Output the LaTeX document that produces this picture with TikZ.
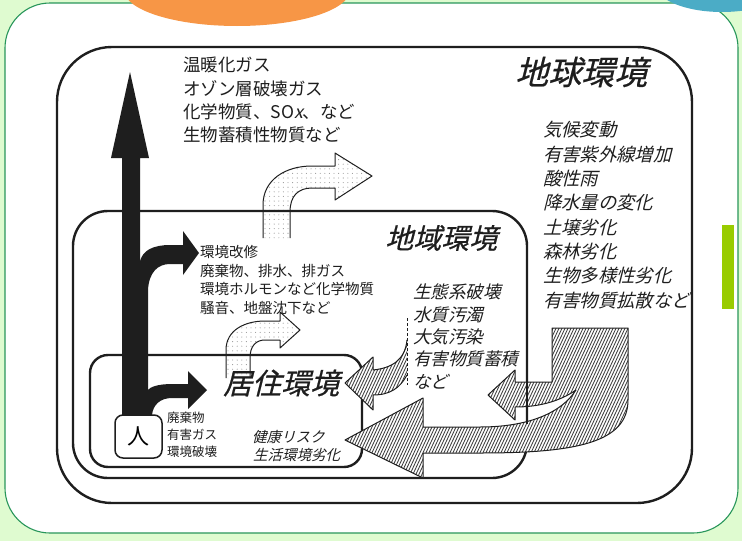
\documentclass[tikz,border=0pt]{standalone}
\usepackage{fontspec}
\setmainfont{Noto Sans CJK JP}
\newfontfamily\jp{Noto Sans CJK JP}
\newfontfamily\jpi[FakeSlant=0.25]{Noto Sans CJK JP}
\newfontfamily\jpti[FakeSlant=0.25,FakeBold=0.6]{Noto Sans CJK JP}
\definecolor{bgg}{RGB}{223,251,208}
\definecolor{frameg}{RGB}{40,150,90}
\definecolor{blobo}{RGB}{247,150,70}
\definecolor{blobb}{RGB}{75,172,198}
\definecolor{barg}{RGB}{153,204,0}
\definecolor{ink}{RGB}{30,30,30}
\tikzset{
  envbox/.style={draw=ink, line width=2.4pt},
  hatchfill/.style={fill=white, draw=ink, line width=1pt, line join=round,
    path picture={\foreach \hx in {-260,-257,...,742} \draw[ink!85, line width=0.85pt] (\hx,560) -- ++(261,-560);}},
  dotfill/.style={fill=white, draw=ink, line width=1pt, line join=round,
    path picture={\foreach \di in {0,...,25} \foreach \dj in {0,...,21}
      \fill[black!40] ([shift={(\di*4.6+2,\dj*4.6+2)}]path picture bounding box.north west) circle (0.55);}},
  jtxt/.style={anchor=west, inner sep=0pt, text=ink},
  up/.style={jtxt, font=\jp\fontsize{#1}{#1}\selectfont},
  it/.style={jtxt, font=\jpi\fontsize{#1}{#1}\selectfont},
  ttl/.style={jtxt, font=\jpti\fontsize{#1}{#1}\selectfont},
}
\begin{document}
\begin{tikzpicture}[x=1pt,y=-1pt]
\useasboundingbox (0,0) rectangle (742,541);
\begin{scope}
\clip (0,0) rectangle (742,541);
\fill[bgg] (0,0) rectangle (742,541);
\draw[frameg, fill=white, line width=1.1pt, rounded corners=45] (5,3) rectangle (738,533);
\fill[blobo] (237,-10) ellipse [x radius=113, y radius=36];
\fill[blobb] (722,-15) ellipse [x radius=66, y radius=27];
\end{scope}
\fill[barg] (722,225) rectangle (734,309);

% dotted arrows
\path[dotfill] (263,238) -- (263,205) .. controls (263,180) and (285,166) .. (312,166) -- (335,166) -- (335,153) -- (372,176) -- (335,200) -- (335,188) -- (312,188) .. controls (298,188) and (290,196) .. (290,212) -- (290,238);
\path[dotfill] (226,378) -- (226,350) .. controls (226,330) and (245,321) .. (265,321) -- (280,321) -- (280,312) -- (300,330) -- (280,348) -- (280,340) -- (265,340) .. controls (256,340) and (250,346) .. (250,358) -- (250,378);

% environment boxes
\draw[envbox, rounded corners=55] (57,47) rectangle (692,503);
\draw[envbox, rounded corners=35] (73,211) rectangle (527,478);
\draw[envbox, rounded corners=18] (90,355) rectangle (362,467);

% hatched arrows
\path[hatchfill] (552,328) -- (628,328) -- (628,400) .. controls (628,443) and (575,453) .. (480,453) -- (423,453) -- (423,478) -- (345,440) -- (423,398) -- (423,427) -- (480,427) .. controls (530,427) and (562,412) .. (576,390) .. controls (560,401) and (540,407) .. (515,407) -- (515,420) -- (488,395) -- (515,370) -- (515,382) -- (552,382) -- cycle;
\draw[ink, line width=2.4pt] (527,362) -- (527,424);
\path[hatchfill] (407,340) .. controls (405,360) and (392,368) .. (373,370) -- (373,357) -- (345,383) -- (373,410) -- (373,395) .. controls (390,395) and (400,388) .. (407,375);
\draw[ink, line width=0.8pt, dash pattern=on 3pt off 2pt] (407,318) -- (407,385);

% black arrow from the person
\fill[ink] (130,72) -- (149,158) -- (140,158) -- (140,262)
  .. controls (142,250) and (154,245) .. (170,245) -- (183,245) -- (183,231) -- (199,253) -- (183,275) -- (183,264) -- (170,264) .. controls (158,264) and (149,272) .. (148,290)
  -- (148,390) .. controls (150,387) and (158,384) .. (172,384) -- (188,384) -- (188,371) -- (207,390) -- (188,409) -- (188,398) -- (172,398) .. controls (160,398) and (153,405) .. (152,415)
  -- (122,415) -- (122,158) -- (111,158) -- cycle;
\node[draw=ink, fill=white, line width=1.5pt, rounded corners=8, minimum width=47, minimum height=43, inner sep=0pt, font=\jp\fontsize{22}{22}\selectfont] (jin) at (138.5,436.5) {人};

% titles
\node[ttl=33] (tChikyu) at (515,72) {地球環境};
\node[ttl=28] (tChiiki) at (385,238) {地域環境};
\node[ttl=29] (tKyoju) at (223,383) {居住環境};

% text lists
\foreach \t [count=\i from 0] in {温暖化ガス,オゾン層破壊ガス,化学物質、SO{\jpi x}、など,生物蓄積性物質など}
  \node[up=17.5] (a\i) at (183,65+23.4*\i) {\t};
\foreach \t [count=\i from 0] in {気候変動,有害紫外線増加,酸性雨,降水量の変化,土壌劣化,森林劣化,生物多様性劣化,有害物質拡散など}
  \node[it=18.3] (g\i) at (543,130+24.3*\i) {\t};
\foreach \t [count=\i from 0] in {環境改修,廃棄物、排水、排ガス,環境ホルモンなど化学物質,騒音、地盤沈下など}
  \node[up=14.5] (m\i) at (200,252+18.7*\i) {\t};
\foreach \t [count=\i from 0] in {生態系破壊,水質汚濁,大気汚染,有害物質蓄積,など}
  \node[it=17.5] (r\i) at (413,292+22.4*\i) {\t};
\foreach \t [count=\i from 0] in {廃棄物,有害ガス,環境破壊}
  \node[up=12.5] (p\i) at (167,418+17*\i) {\t};
\node[it=14.5] (k0) at (252,437) {健康リスク};
\node[it=14.5] (k1) at (253,455) {生活環境劣化};
\end{tikzpicture}
\end{document}
